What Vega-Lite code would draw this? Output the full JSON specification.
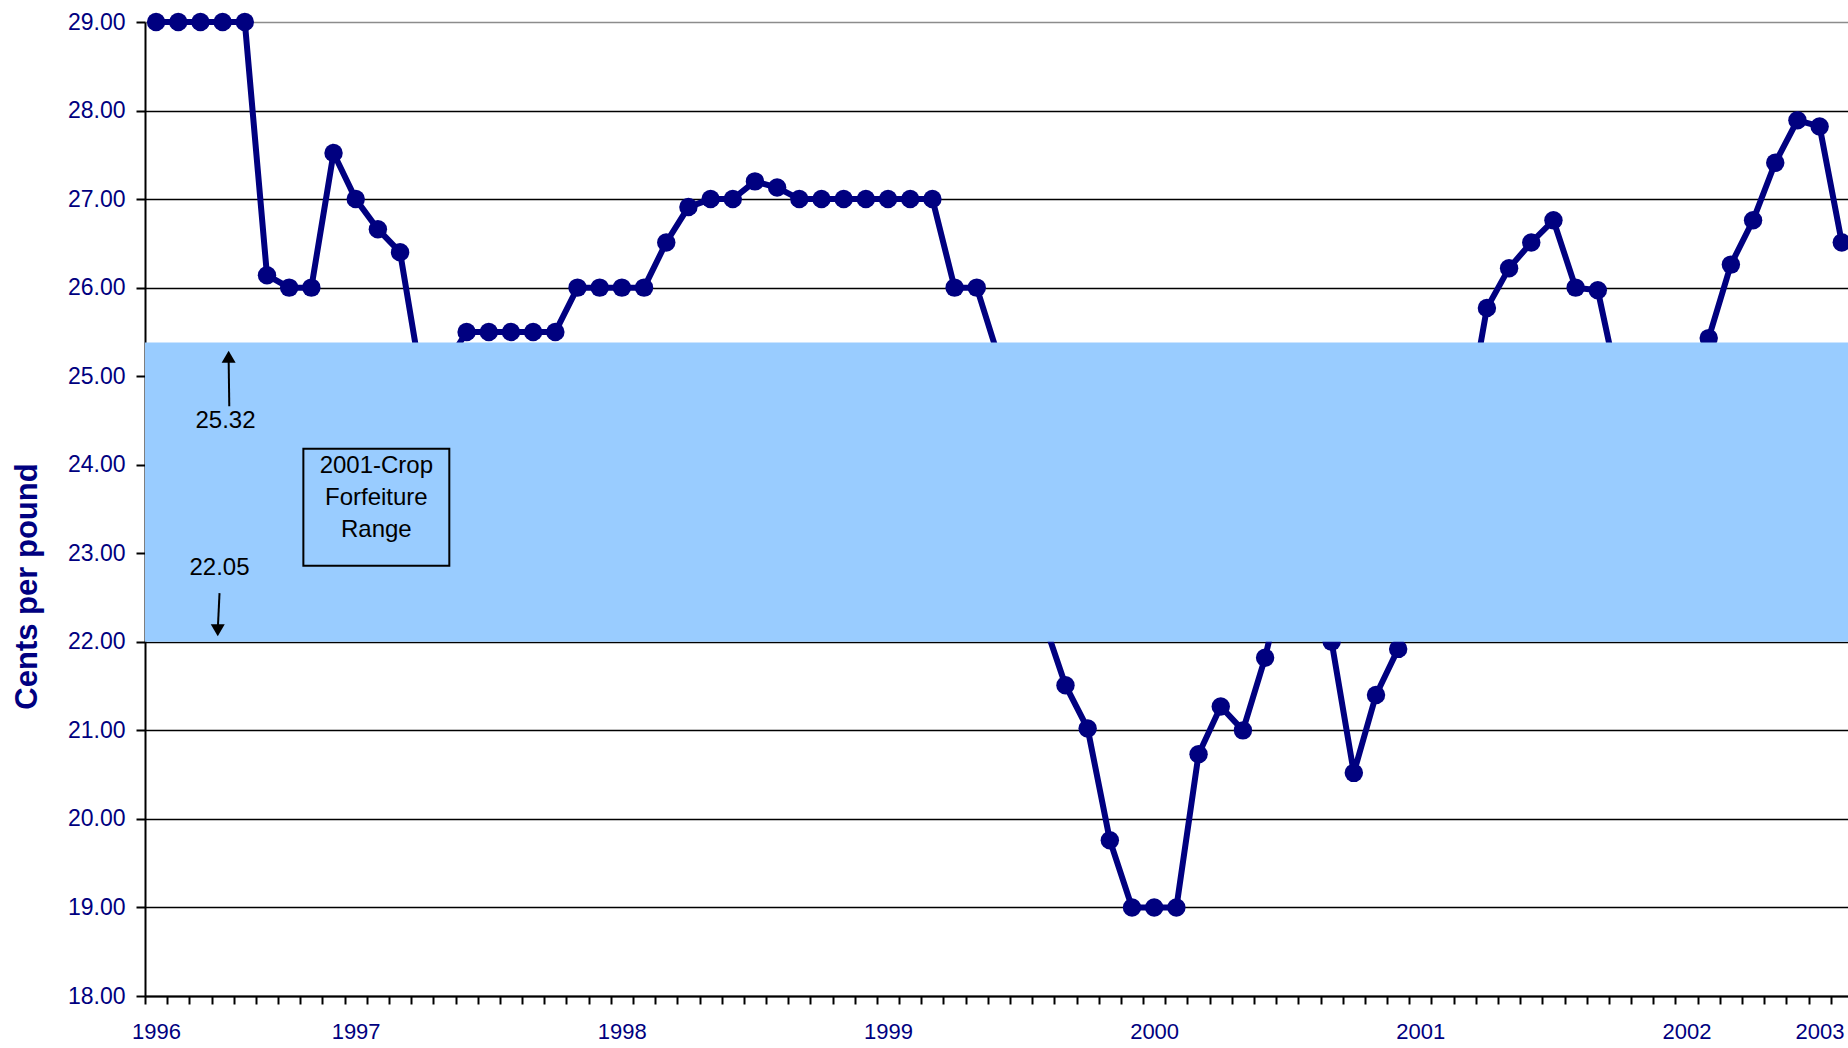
{
  "$schema": "https://vega.github.io/schema/vega-lite/v6.json",
  "width": 1703,
  "height": 974,
  "autosize": {"type": "none"},
  "padding": {"left": 145, "top": 22, "right": 0, "bottom": 52},
  "background": "white",
  "config": {"view": {"stroke": null}},
  "datasets": {
    "prices": [
      {"i": 0, "price": 29.0}, {"i": 1, "price": 29.0}, {"i": 2, "price": 29.0}, {"i": 3, "price": 29.0},
      {"i": 4, "price": 29.0}, {"i": 5, "price": 26.14}, {"i": 6, "price": 26.0}, {"i": 7, "price": 26.0},
      {"i": 8, "price": 27.52}, {"i": 9, "price": 27.0}, {"i": 10, "price": 26.66}, {"i": 11, "price": 26.4},
      {"i": 12, "price": 24.9}, {"i": 13, "price": 25.1}, {"i": 14, "price": 25.5}, {"i": 15, "price": 25.5},
      {"i": 16, "price": 25.5}, {"i": 17, "price": 25.5}, {"i": 18, "price": 25.5}, {"i": 19, "price": 26.0},
      {"i": 20, "price": 26.0}, {"i": 21, "price": 26.0}, {"i": 22, "price": 26.0}, {"i": 23, "price": 26.51},
      {"i": 24, "price": 26.91}, {"i": 25, "price": 27.0}, {"i": 26, "price": 27.0}, {"i": 27, "price": 27.2},
      {"i": 28, "price": 27.13}, {"i": 29, "price": 27.0}, {"i": 30, "price": 27.0}, {"i": 31, "price": 27.0},
      {"i": 32, "price": 27.0}, {"i": 33, "price": 27.0}, {"i": 34, "price": 27.0}, {"i": 35, "price": 27.0},
      {"i": 36, "price": 26.0}, {"i": 37, "price": 26.0}, {"i": 38, "price": 25.2}, {"i": 39, "price": 23.7},
      {"i": 40, "price": 22.25}, {"i": 41, "price": 21.51}, {"i": 42, "price": 21.02}, {"i": 43, "price": 19.76},
      {"i": 44, "price": 19.0}, {"i": 45, "price": 19.0}, {"i": 46, "price": 19.0}, {"i": 47, "price": 20.73},
      {"i": 48, "price": 21.27}, {"i": 49, "price": 21.0}, {"i": 50, "price": 21.82}, {"i": 51, "price": 22.9},
      {"i": 52, "price": 22.5}, {"i": 53, "price": 22.0}, {"i": 54, "price": 20.52}, {"i": 55, "price": 21.4},
      {"i": 56, "price": 21.92}, {"i": 57, "price": 22.7}, {"i": 58, "price": 23.5}, {"i": 59, "price": 24.35},
      {"i": 60, "price": 25.77}, {"i": 61, "price": 26.22}, {"i": 62, "price": 26.51}, {"i": 63, "price": 26.76},
      {"i": 64, "price": 26.0}, {"i": 65, "price": 25.97}, {"i": 66, "price": 24.8}, {"i": 67, "price": 24.3},
      {"i": 68, "price": 24.2}, {"i": 69, "price": 24.8}, {"i": 70, "price": 25.43}, {"i": 71, "price": 26.26},
      {"i": 72, "price": 26.76}, {"i": 73, "price": 27.41}, {"i": 74, "price": 27.89}, {"i": 75, "price": 27.82},
      {"i": 76, "price": 26.51}
    ],
    "band": [{"lo": 22.0, "hi": 25.38}],
    "box": [{"x1": 6.64, "x2": 13.22, "y1": 22.86, "y2": 24.18}],
    "shafts": [
      {"x1": 3.3, "y1": 24.66, "x2": 3.27, "y2": 25.22},
      {"x1": 2.86, "y1": 22.55, "x2": 2.78, "y2": 22.13}
    ],
    "heads": [
      {"x": 3.27, "y": 25.22, "dir": "up"},
      {"x": 2.78, "y": 22.13, "dir": "down"}
    ],
    "notes": [
      {"x": 3.13, "y": 24.49, "label": "25.32"},
      {"x": 2.86, "y": 22.83, "label": "22.05"},
      {"x": 9.93, "y": 23.98, "label": "2001-Crop\nForfeiture\nRange"}
    ]
  },
  "layer": [
    {
      "data": {"name": "prices"},
      "mark": {"type": "line", "color": "#000080", "strokeWidth": 6},
      "encoding": {
        "x": {
          "field": "i", "type": "quantitative", "title": null,
          "scale": {"domain": [-0.5, 76.28], "nice": false, "zero": false},
          "axis": {
            "values": [-0.5,0.5,1.5,2.5,3.5,4.5,5.5,6.5,7.5,8.5,9.5,10.5,11.5,12.5,13.5,14.5,15.5,16.5,17.5,18.5,19.5,20.5,21.5,22.5,23.5,24.5,25.5,26.5,27.5,28.5,29.5,30.5,31.5,32.5,33.5,34.5,35.5,36.5,37.5,38.5,39.5,40.5,41.5,42.5,43.5,44.5,45.5,46.5,47.5,48.5,49.5,50.5,51.5,52.5,53.5,54.5,55.5,56.5,57.5,58.5,59.5,60.5,61.5,62.5,63.5,64.5,65.5,66.5,67.5,68.5,69.5,70.5,71.5,72.5,73.5,74.5,75.5,76.5],
            "tickCount": 200,
            "labelExpr": "datum.value == -0.5 ? '1996' : datum.value == 8.5 ? '1997' : datum.value == 20.5 ? '1998' : datum.value == 32.5 ? '1999' : datum.value == 44.5 ? '2000' : datum.value == 56.5 ? '2001' : datum.value == 68.5 ? '2002' : datum.value == 74.5 ? '2003' : ''",
            "labelOffset": 11,
            "labelFlush": false,
            "labelOverlap": false,
            "labelBound": false,
            "grid": false,
            "domainColor": "black",
            "domainWidth": 2,
            "tickColor": "black",
            "tickWidth": 2,
            "tickSize": 8,
            "labelPadding": 17,
            "labelFont": "Liberation Sans",
            "labelFontSize": 22,
            "labelColor": "#000080"
          }
        },
        "y": {
          "field": "price", "type": "quantitative", "title": "Cents per pound",
          "scale": {"domain": [18, 29], "nice": false, "zero": false},
          "axis": {
            "values": [18,19,20,21,22,23,24,25,26,27,28,29],
            "tickCount": 50,
            "format": ".2f",
            "grid": true,
            "gridColor": {"condition": {"test": "datum.value == 29", "value": "#8c8c8c"}, "value": "black"},
            "gridWidth": 1.7,
            "domainColor": "black",
            "domainWidth": 2,
            "tickColor": "black",
            "tickWidth": 2,
            "tickSize": 9,
            "labelPadding": 11,
            "labelFont": "Liberation Sans",
            "labelFontSize": 23,
            "labelColor": "#000080",
            "titleFont": "Liberation Sans",
            "titleFontSize": 31,
            "titleFontWeight": "bold",
            "titleColor": "#000080",
            "titleAngle": 270,
            "titleAlign": "center",
            "titleBaseline": "middle",
            "titleX": -118,
            "titleY": 564
          }
        }
      }
    },
    {
      "data": {"name": "prices"},
      "mark": {"type": "point", "filled": true, "color": "#000080", "size": 340, "opacity": 1},
      "encoding": {
        "x": {"field": "i", "type": "quantitative", "title": null},
        "y": {"field": "price", "type": "quantitative", "title": "Cents per pound"}
      }
    },
    {
      "data": {"name": "band"},
      "mark": {"type": "rect", "color": "#99CCFF", "opacity": 1},
      "encoding": {
        "y": {"field": "lo", "type": "quantitative", "title": "Cents per pound"},
        "y2": {"field": "hi"}
      }
    },
    {
      "data": {"name": "box"},
      "mark": {"type": "rect", "fillOpacity": 0, "stroke": "black", "strokeWidth": 2},
      "encoding": {
        "x": {"field": "x1", "type": "quantitative", "title": null},
        "x2": {"field": "x2"},
        "y": {"field": "y1", "type": "quantitative", "title": "Cents per pound"},
        "y2": {"field": "y2"}
      }
    },
    {
      "data": {"name": "shafts"},
      "mark": {"type": "rule", "color": "black", "strokeWidth": 2},
      "encoding": {
        "x": {"field": "x1", "type": "quantitative", "title": null},
        "x2": {"field": "x2"},
        "y": {"field": "y1", "type": "quantitative", "title": "Cents per pound"},
        "y2": {"field": "y2"}
      }
    },
    {
      "data": {"name": "heads"},
      "mark": {"type": "point", "filled": true, "color": "black", "size": 196, "opacity": 1},
      "encoding": {
        "x": {"field": "x", "type": "quantitative", "title": null},
        "y": {"field": "y", "type": "quantitative", "title": "Cents per pound"},
        "shape": {"field": "dir", "type": "nominal", "scale": {"domain": ["up", "down"], "range": ["triangle-up", "triangle-down"]}, "legend": null}
      }
    },
    {
      "data": {"name": "notes"},
      "mark": {"type": "text", "font": "Liberation Sans", "fontSize": 24, "color": "black", "align": "center", "baseline": "middle", "lineBreak": "\n", "lineHeight": 32},
      "encoding": {
        "x": {"field": "x", "type": "quantitative", "title": null},
        "y": {"field": "y", "type": "quantitative", "title": "Cents per pound"},
        "text": {"field": "label"}
      }
    }
  ]
}
